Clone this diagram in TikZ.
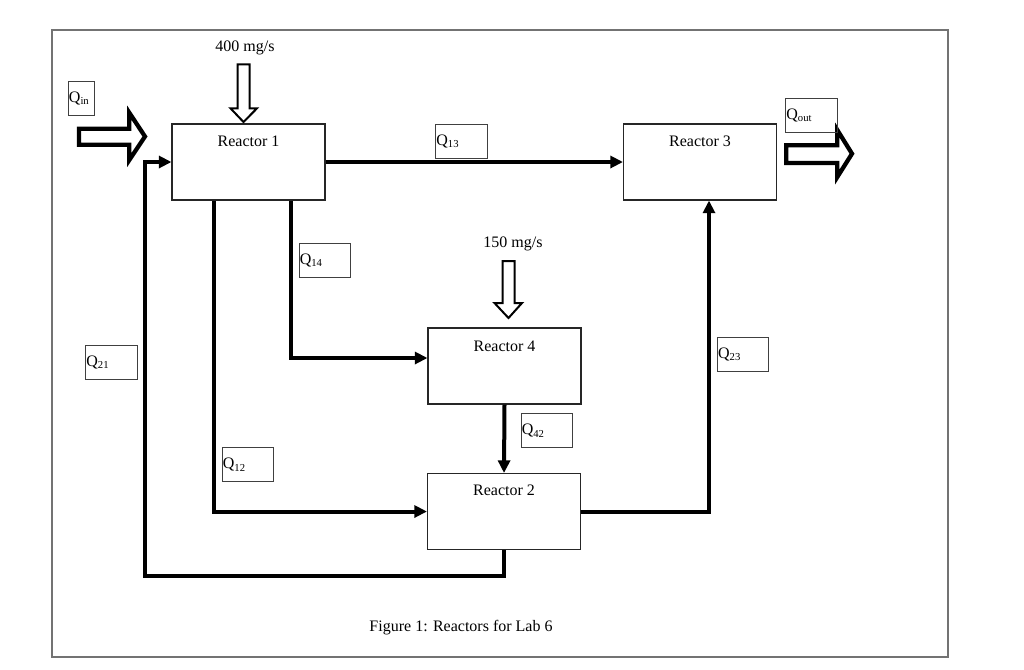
\documentclass[tikz,border=0pt]{standalone}
\usepackage{fontspec}
\setmainfont{Liberation Serif}
\usetikzlibrary{arrows.meta}
\begin{document}
\begin{tikzpicture}[x=0.75pt,y=-0.75pt,
  reactor/.style={draw=black!85, line width=0.8pt, minimum width=114.75pt, minimum height=57pt, inner sep=0pt},
  rtext/.style={anchor=base, font=\fontsize{12}{14}\selectfont, inner sep=0pt},
  qlabel/.style={draw=black!75, line width=0.75pt, text width=37.6pt, inner xsep=0.5pt, inner ysep=0pt, minimum height=25.5pt, align=left, font=\fontsize{12}{14}\selectfont},
  flow/.style={line width=3pt, line join=miter, -{Triangle[length=9.5pt,width=9pt]}},
  hollow/.style={draw=black, fill=white, line width=3.2pt, line join=miter},
  feed/.style={draw=black, fill=white, line width=1.5pt, line join=miter}]
\useasboundingbox (0,0) rectangle (1024,669);
% outer frame
\draw[draw=black!55, line width=1.1pt] (52,30) rectangle (948,657);

% reactors
\node[reactor] (r1) at (248.5,162) {};
\node[reactor] (r3) at (700,162) {};
\node[reactor] (r4) at (504.5,366) {};
\node[reactor] (r2) at (504,511.5) {};
\node[rtext] (t1) at ([yshift=-17pt]r1.north) {Reactor 1};
\node[rtext] (t3) at ([yshift=-17pt]r3.north) {Reactor 3};
\node[rtext] (t4) at ([yshift=-18pt]r4.north) {Reactor 4};
\node[rtext] (t2) at ([yshift=-17pt]r2.north) {Reactor 2};

% hollow inflow / outflow arrows
\draw[hollow] (79,128.7) -- (129.3,128.7) -- (129.3,112.7) -- (145,136.5) -- (129.3,160) -- (129.3,144.7) -- (79,144.7) -- cycle;
\draw[hollow] (786.3,145.3) -- (837.3,145.3) -- (837.3,130) -- (852,153.7) -- (837.3,177) -- (837.3,163) -- (786.3,163) -- cycle;

% feed arrows
\draw[feed] (237.7,64.3) -- (249.7,64.3) -- (249.7,108.3) -- (257,108.3) -- (243.5,122) -- (230.5,108.3) -- (237.7,108.3) -- cycle;
\draw[feed] (502.7,261) -- (514.7,261) -- (514.7,303) -- (522,303) -- (508.5,318) -- (494.5,303) -- (502.7,303) -- cycle;
\node[rtext] (f400) at (245,51.7) {400 mg/s};
\node[rtext] (f150) at (513,247) {150 mg/s};

% flow connectors
\draw[flow] (r1.east) -- (r3.west);
\draw[flow] ([xshift=31.9pt]r1.south) |- ([yshift=6pt]r4.west);
\draw[flow] ([xshift=-25.6pt]r1.south) |- (r2.west);
\draw[flow] (r4.south) -- (r2.north);
\coordinate (k21) at (145,576);
\draw[flow] (r2.south) |- (k21) |- (r1.west);
\draw[flow] (r2.east) -| ([xshift=6.75pt]r3.south);

% flow labels
\node[qlabel, text width=18.5pt] (qin) at (81.3,98) {Q\textsubscript{in}};
\node[qlabel] (qout) at (811.5,115.3) {Q\textsubscript{out}};
\node[qlabel] (q13) at (461.5,141.2) {Q\textsubscript{13}};
\node[qlabel] (q14) at (324.9,260.3) {Q\textsubscript{14}};
\node[qlabel] (q21) at (111.5,362.2) {Q\textsubscript{21}};
\node[qlabel] (q12) at (248,464.9) {Q\textsubscript{12}};
\node[qlabel] (q42) at (546.9,430.8) {Q\textsubscript{42}};
\node[qlabel] (q23) at (743.2,354.4) {Q\textsubscript{23}};

% caption
\node[rtext] (cap) at (461,631) {Figure 1: Reactors for Lab 6};
\end{tikzpicture}
\end{document}
